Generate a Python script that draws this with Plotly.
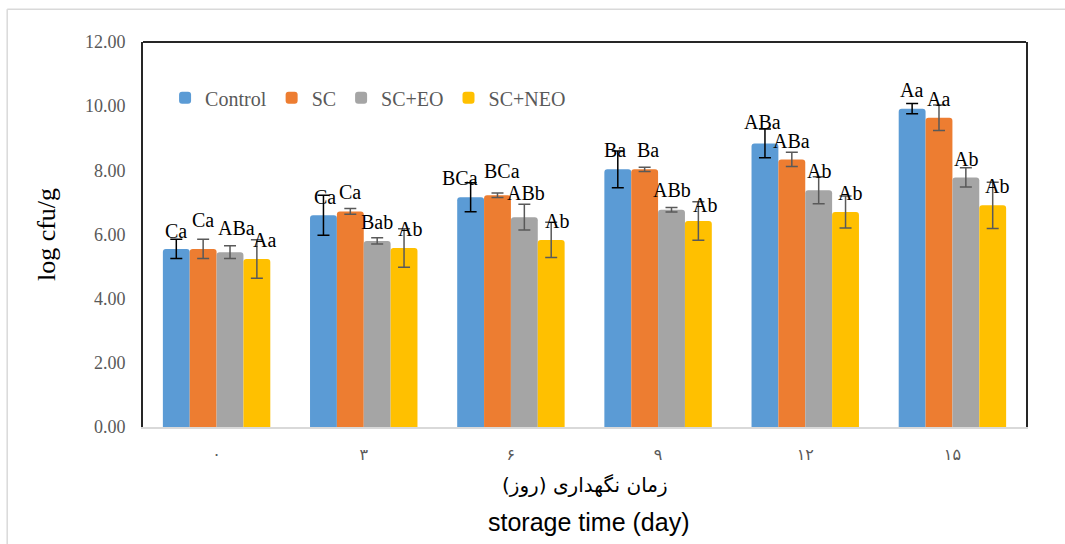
import plotly.graph_objects as go

days = ["۰", "۳", "۶", "۹", "۱۲", "۱۵"]
series_names = ["Control", "SC", "SC+EO", "SC+NEO"]
colors = ["#5B9BD5", "#ED7D31", "#A5A5A5", "#FFC000"]
err_colors = ["#000000", "#595959", "#595959", "#595959"]

control = [5.55, 6.60, 7.16, 8.03, 8.84, 9.92]
sc = [5.55, 6.72, 7.22, 8.03, 8.34, 9.64]
sc_eo = [5.45, 5.80, 6.54, 6.77, 7.38, 7.78]
sc_neo = [5.24, 5.58, 5.83, 6.42, 6.70, 6.91]

control_err = [0.30, 0.62, 0.45, 0.57, 0.45, 0.16]
sc_err = [0.30, 0.09, 0.07, 0.07, 0.22, 0.40]
sc_eo_err = [0.20, 0.10, 0.40, 0.07, 0.42, 0.30]
sc_neo_err = [0.60, 0.60, 0.55, 0.60, 0.50, 0.72]

control_lbl = ["Ca", "Ca", "BCa", "Ba", "ABa", "Aa"]
sc_lbl = ["Ca", "Ca", "BCa", "Ba", "ABa", "Aa"]
sc_eo_lbl = ["ABa", "Bab", "ABb", "ABb", "Ab", "Ab"]
sc_neo_lbl = ["Aa", "Ab", "Ab", "Ab", "Ab", "Ab"]

# vertical nudges (px) of the significance labels above the error-bar tops
control_lbl_shift = [8, -2, 5, 1, 7, 14]
sc_lbl_shift = [19, 17, 22, 17, 11, 6]
sc_eo_lbl_shift = [18, 16, 11, 18, 6, 9]
sc_neo_lbl_shift = [0, 0, 1, -3, 3, -4]
# horizontal nudges (px) of the labels
control_lbl_dx = [0, 2, -10, -3, -2, 0]
sc_lbl_dx = [0, 0, 5, 3, 0, 0]
sc_eo_lbl_dx = [6, 0, 2, 0, 0, 0]
sc_neo_lbl_dx = [7, 6, 6, 6, 4, 4]

values = [control, sc, sc_eo, sc_neo]
errors = [control_err, sc_err, sc_eo_err, sc_neo_err]
labels = [control_lbl, sc_lbl, sc_eo_lbl, sc_neo_lbl]
lbl_shifts = [control_lbl_shift, sc_lbl_shift, sc_eo_lbl_shift, sc_neo_lbl_shift]
lbl_dx = [control_lbl_dx, sc_lbl_dx, sc_eo_lbl_dx, sc_neo_lbl_dx]

SERIF = "Liberation Serif, Times New Roman, serif"

fig = go.Figure()
for i in range(4):
    fig.add_trace(go.Bar(
        x=days, y=values[i], name=series_names[i],
        marker=dict(color=colors[i], line=dict(width=0), cornerradius=3),
        error_y=dict(type="data", array=errors[i], visible=True,
                     color=err_colors[i], thickness=1.5, width=6),
        offsetgroup=str(i),
    ))

# data labels
bar_w = 27
x_offsets = [-1.5 * bar_w, -0.5 * bar_w, 0.5 * bar_w, 1.5 * bar_w]
annotations = []
for i in range(4):
    for j, d in enumerate(days):
        annotations.append(dict(
            x=d, y=values[i][j] + errors[i][j], xref="x", yref="y",
            text=labels[i][j], showarrow=False, yanchor="middle",
            xshift=x_offsets[i] + lbl_dx[i][j], yshift=lbl_shifts[i][j],
            font=dict(family=SERIF, size=20, color="#000000"),
        ))

annotations.append(dict(
    x=0.5, y=-0.115, xref="paper", yref="paper", yanchor="top",
    text="زمان نگهداری (روز)", showarrow=False,
    font=dict(family="DejaVu Sans, Noto Sans, sans-serif", size=20, color="#000000"),
))
annotations.append(dict(
    x=0.505, y=-0.205, xref="paper", yref="paper", yanchor="top",
    text="storage time (day)", showarrow=False,
    font=dict(family="Liberation Sans, Arial, sans-serif", size=25, color="#000000"),
))

fig.update_layout(
    width=1065, height=544,
    margin=dict(l=143, r=39, t=42, b=117),
    paper_bgcolor="white", plot_bgcolor="white",
    barmode="group", bargap=0.27, bargroupgap=0,
    showlegend=True,
    legend=dict(orientation="h", x=0.025, y=0.855, xanchor="left", yanchor="middle",
                font=dict(family=SERIF, size=20, color="#595959"),
                bgcolor="rgba(0,0,0,0)", itemwidth=30, tracegroupgap=0),
    annotations=annotations,
    shapes=[
        # outer chart frame (left and top)
        dict(type="line", xref="paper", yref="paper", x0=-0.1538, x1=-0.1538, y0=-0.4, y1=1.085,
             line=dict(color="#D9D9D9", width=1.5)),
        dict(type="line", xref="paper", yref="paper", x0=-0.1538, x1=1.1, y0=1.085, y1=1.085,
             line=dict(color="#D9D9D9", width=1.5)),
        # top border of plot area
        dict(type="line", xref="paper", yref="paper", x0=0, x1=1, y0=1, y1=1,
             line=dict(color="#262626", width=2)),
    ],
)
fig.update_xaxes(
    showline=True, linecolor="#D9D9D9", linewidth=1.5, mirror=False,
    showgrid=False, ticks="", ticklabelstandoff=12,
    tickfont=dict(family="DejaVu Sans, sans-serif", size=16, color="#595959"),
)
fig.update_yaxes(
    range=[0, 12], dtick=2, tickformat=".2f",
    showline=True, linecolor="#262626", linewidth=2, mirror=True,
    showgrid=False, ticks="", zeroline=False, ticklabelstandoff=12,
    tickfont=dict(family=SERIF, size=18, color="#595959"),
    title=dict(text="log cfu/g", font=dict(family=SERIF, size=26, color="#000000"), standoff=22),
)

fig.write_html("out.html", config={"displayModeBar": False},
               post_script="document.body.style.margin='0';")
